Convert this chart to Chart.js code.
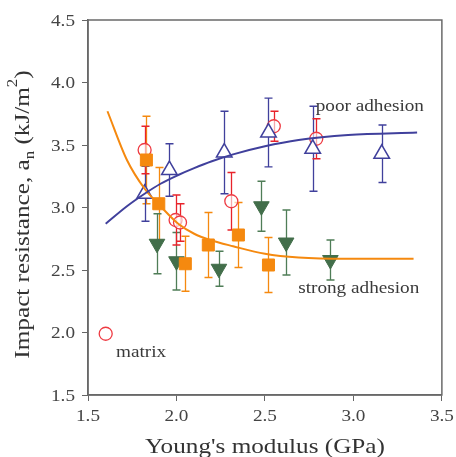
<!DOCTYPE html>
<html>
<head>
<meta charset="utf-8">
<script src="https://cdn.jsdelivr.net/npm/chart.js@4"></script>
<style>
  body { margin: 0; background: #fff; }
  #wrap { width: 456px; height: 457px; }
</style>
</head>
<body>
<div id="wrap"><canvas id="chart" width="456" height="457"></canvas></div>
<script>
// values
const xTicks = [1.5, 2.0, 2.5, 3.0, 3.5];
const yTicks = [1.5, 2.0, 2.5, 3.0, 3.5, 4.0, 4.5];

const matrixX = [1.60];
const matrixY = [1.99];

const redX = [1.82, 1.995, 2.02, 2.31, 2.55, 2.79];
const redY = [3.46, 2.90, 2.88, 3.05, 3.65, 3.55];
const redErr = [0.19, 0.20, 0.15, 0.23, 0.12, 0.16];

const blueX = [1.82, 1.96, 2.27, 2.52, 2.77, 3.16];
const blueY = [3.11, 3.30, 3.44, 3.60, 3.47, 3.43];
const blueErr = [0.22, 0.21, 0.33, 0.275, 0.34, 0.23];

const orangeX = [1.83, 1.90, 2.05, 2.18, 2.35, 2.52];
const orangeY = [3.38, 3.03, 2.55, 2.70, 2.78, 2.54];
const orangeErr = [0.35, 0.29, 0.22, 0.26, 0.26, 0.22];

const greenX = [1.89, 2.00, 2.24, 2.48, 2.62, 2.87];
const greenY = [2.71, 2.57, 2.51, 3.01, 2.72, 2.58];
const greenErr = [0.24, 0.23, 0.14, 0.20, 0.26, 0.16];

const blueFitX = [1.60, 1.72, 1.82, 1.91, 2.01, 2.10, 2.20, 2.32, 2.50, 2.69, 2.97, 3.36];
const blueFitY = [2.87, 3.01, 3.11, 3.19, 3.26, 3.315, 3.37, 3.425, 3.49, 3.54, 3.58, 3.60];

const orangeFitX = [1.61, 1.72, 1.82, 1.91, 2.01, 2.10, 2.19, 2.32, 2.50, 2.69, 2.97, 3.34];
const orangeFitY = [3.77, 3.38, 3.15, 3.01, 2.87, 2.79, 2.74, 2.69, 2.63, 2.60, 2.59, 2.59];

const RED = '#ee3a42';
const BLUE = '#40409c';
const ORANGE = '#f5890f';
const GREEN = '#426e4a';
const SERIF = '"Liberation Serif", serif';
const STRETCH = 1.2; // the original text is a bit wide

function pts(xs, ys) {
    return xs.map((x, i) => ({ x: x, y: ys[i] }));
}

function wideText(ctx, text, x, y, align) {
    ctx.save();
    ctx.translate(x, y);
    ctx.scale(STRETCH, 1);
    ctx.textAlign = align;
    ctx.fillText(text, 0, 0);
    ctx.restore();
}

// error bars, drawn under the markers, plus frame and text
const errorBars = {
    id: 'errorBars',
    beforeDatasetsDraw(chart) {
        const ctx = chart.ctx;
        const sx = chart.scales.x, sy = chart.scales.y;
        const sets = [
            [orangeX, orangeY, orangeErr, ORANGE],
            [greenX, greenY, greenErr, '#4f7d57'],
            [blueX, blueY, blueErr, BLUE],
            [redX, redY, redErr, '#e8232b']
        ];
        ctx.save();
        ctx.lineWidth = 1.3;
        sets.forEach(([xs, ys, es, col]) => {
            ctx.strokeStyle = col;
            xs.forEach((x, i) => {
                const px = Math.round(sx.getPixelForValue(x)) + 0.5;
                const top = sy.getPixelForValue(ys[i] + es[i]);
                const bot = sy.getPixelForValue(ys[i] - es[i]);
                ctx.beginPath();
                ctx.moveTo(px, top); ctx.lineTo(px, bot);
                ctx.moveTo(px - 4, top); ctx.lineTo(px + 4, top);
                ctx.moveTo(px - 4, bot); ctx.lineTo(px + 4, bot);
                ctx.stroke();
            });
        });
        ctx.restore();
    },
    afterDraw(chart) {
        const ctx = chart.ctx;
        const a = chart.chartArea;
        const sx = chart.scales.x, sy = chart.scales.y;
        ctx.save();
        ctx.strokeStyle = '#6a6a6a';
        ctx.lineWidth = 1.5;
        ctx.strokeRect(a.left, a.top, a.right - a.left, a.bottom - a.top);

        // tick labels
        ctx.fillStyle = '#444';
        ctx.font = '16px ' + SERIF;
        ctx.textBaseline = 'alphabetic';
        xTicks.forEach(v => wideText(ctx, v.toFixed(1), sx.getPixelForValue(v), a.bottom + 26, 'center'));
        yTicks.forEach(v => wideText(ctx, v.toFixed(1), a.left - 13, sy.getPixelForValue(v) + 5.5, 'right'));

        // notes in the plot
        ctx.fillStyle = '#3a3a3a';
        wideText(ctx, 'poor adhesion', sx.getPixelForValue(2.787), sy.getPixelForValue(3.774), 'left');
        wideText(ctx, 'strong adhesion', sx.getPixelForValue(2.688), sy.getPixelForValue(2.318), 'left');
        wideText(ctx, 'matrix', sx.getPixelForValue(1.658), sy.getPixelForValue(1.802), 'left');

        // axis titles
        ctx.fillStyle = '#333';
        ctx.font = '21px ' + SERIF;
        wideText(ctx, "Young's modulus (GPa)", (a.left + a.right) / 2, 453, 'center');

        const parts = [
            ['Impact resistance, a', 21, 0],
            ['n', 14, 5],
            [' (kJ/m', 21, 0],
            ['2', 14, -12],
            [')', 21, 0]
        ];
        let total = 0;
        parts.forEach(p => {
            ctx.font = p[1] + 'px ' + SERIF;
            total += ctx.measureText(p[0]).width;
        });
        ctx.translate(29, (a.top + a.bottom) / 2 + 7);
        ctx.rotate(-Math.PI / 2);
        ctx.scale(STRETCH, 1);
        ctx.textAlign = 'left';
        let pos = -total / 2;
        parts.forEach(p => {
            ctx.font = p[1] + 'px ' + SERIF;
            ctx.fillText(p[0], pos, p[2]);
            pos += ctx.measureText(p[0]).width;
        });
        ctx.restore();
    }
};

new Chart(document.getElementById('chart'), {
    type: 'scatter',
    data: {
        datasets: [
            {
                data: pts(blueFitX, blueFitY),
                showLine: true,
                borderColor: BLUE,
                borderWidth: 2,
                pointRadius: 0,
                cubicInterpolationMode: 'monotone'
            },
            {
                data: pts(orangeFitX, orangeFitY),
                showLine: true,
                borderColor: ORANGE,
                borderWidth: 2,
                pointRadius: 0,
                cubicInterpolationMode: 'monotone'
            },
            {
                data: pts(orangeX, orangeY),
                pointStyle: 'rect',
                pointRadius: 8.5,
                backgroundColor: ORANGE,
                borderColor: ORANGE,
                borderWidth: 1
            },
            {
                data: pts(greenX, greenY),
                pointStyle: 'triangle',
                rotation: 180,
                pointRadius: 9,
                backgroundColor: GREEN,
                borderColor: GREEN,
                borderWidth: 1
            },
            {
                data: pts(blueX, blueY),
                pointStyle: 'triangle',
                pointRadius: 9,
                backgroundColor: '#fff',
                borderColor: BLUE,
                borderWidth: 1.5
            },
            {
                data: pts(redX, redY),
                pointStyle: 'circle',
                pointRadius: 6.5,
                backgroundColor: 'rgba(255,255,255,0.6)',
                borderColor: RED,
                borderWidth: 1.3
            },
            {
                data: pts(matrixX, matrixY),
                pointStyle: 'circle',
                pointRadius: 6.5,
                backgroundColor: '#fff',
                borderColor: RED,
                borderWidth: 1.3
            }
        ]
    },
    options: {
        responsive: false,
        animation: false,
        devicePixelRatio: 1,
        layout: { padding: { top: 20, right: 12, left: 0, bottom: 0 } },
        plugins: {
            legend: { display: false },
            tooltip: { enabled: false }
        },
        scales: {
            x: {
                type: 'linear',
                min: 1.5,
                max: 3.5,
                afterBuildTicks: axis => { axis.ticks = xTicks.map(v => ({ value: v })); },
                afterFit: axis => { axis.height = 62; },
                ticks: { color: 'rgba(0,0,0,0)', font: { size: 16 } },
                grid: { drawOnChartArea: false, drawTicks: true, tickLength: 6, color: '#666' },
                border: { color: '#666', width: 1.5 }
            },
            y: {
                type: 'linear',
                min: 1.5,
                max: 4.5,
                afterBuildTicks: axis => { axis.ticks = yTicks.map(v => ({ value: v })); },
                afterFit: axis => { axis.width = 88; },
                ticks: { color: 'rgba(0,0,0,0)', font: { size: 16 } },
                grid: { drawOnChartArea: false, drawTicks: true, tickLength: 6, color: '#666' },
                border: { color: '#666', width: 1.5 }
            }
        }
    },
    plugins: [errorBars]
});
</script>
</body>
</html>
